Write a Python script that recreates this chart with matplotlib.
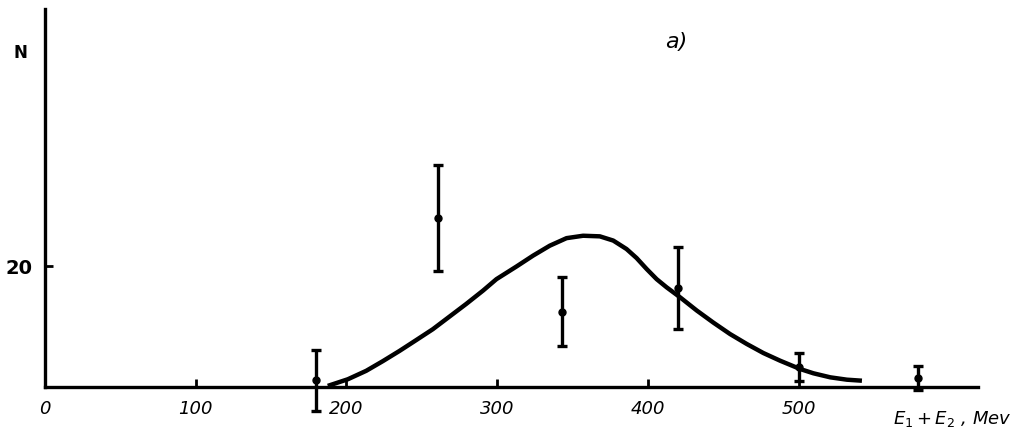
import matplotlib
matplotlib.use("Agg")
import matplotlib.pyplot as plt

# measured points: bin centre (MeV), count, error
energy = [180, 261, 343, 420, 500, 579]
counts = [1.0, 28.0, 12.4, 16.4, 3.2, 1.4]
errors = [5.0, 8.8, 5.7, 6.8, 2.3, 2.0]

# calculated curve
curve_e = [187.6, 200.9, 213.1, 224.1, 235.2, 246.3, 257.3, 268.4, 279.5,
           290.6, 299.5, 312.8, 323.8, 334.9, 346.0, 357.0, 368.1, 377.0,
           385.8, 392.5, 399.1, 405.8, 412.4, 421.3, 432.4, 443.4, 454.5,
           465.6, 476.6, 487.7, 501.0, 509.8, 521.0, 532.0, 542.0]
curve_n = [0.1, 1.2, 2.6, 4.2, 5.9, 7.7, 9.5, 11.6, 13.7,
           15.9, 17.8, 19.9, 21.7, 23.35, 24.6, 25.0, 24.9, 24.2,
           22.8, 21.3, 19.5, 17.8, 16.45, 14.8, 12.6, 10.6, 8.7,
           7.05, 5.55, 4.28, 2.9, 2.19, 1.52, 1.13, 0.96]

x_ticks = [0, 100, 200, 300, 400, 500]
x_ticklabels = ["0", "100", "200", "300", "400", "500"]
y_ticks = [20]

W, H = 1011, 439
fig = plt.figure(figsize=(W / 100, H / 100), dpi=100)
fig.patch.set_facecolor("white")

# axes placed in pixel terms: y-axis at x=45, baseline at y=387.5
left, right, top, base = 45, 978, 10, 387.5
ax = fig.add_axes([left / W, (H - base) / H, (right - left) / W, (base - top) / H])
ax.set_xlim(0, 619)
ax.set_ylim(0, 62.6)

for s in ("top", "right"):
    ax.spines[s].set_visible(False)
for s in ("left", "bottom"):
    ax.spines[s].set_linewidth(2.4)
    ax.spines[s].set_color("black")

ax.plot(curve_e, curve_n, color="black", lw=3.2, solid_capstyle="butt",
        solid_joinstyle="round", clip_on=False, zorder=3)
ax.errorbar(energy, counts, yerr=errors, fmt="o", color="black", ms=5,
            elinewidth=2.4, capsize=3.6, capthick=2.4, clip_on=False, zorder=4)

hand = {"family": "DejaVu Sans", "style": "italic"}
ax.set_xticks(x_ticks)
ax.set_xticklabels(x_ticklabels, fontsize=13, fontstyle="italic")
ax.set_yticks(y_ticks)
ax.set_yticklabels(["20"], fontsize=14, fontweight="bold")
ax.tick_params(axis="x", direction="in", length=6, width=2, pad=9)
ax.tick_params(axis="y", direction="in", length=6, width=2, pad=9)

fig.text(20 / W, 1 - 53 / H, "N", fontsize=12, fontweight="bold",
         ha="center", va="center")
fig.text(676 / W, 1 - 42 / H, "a)", fontsize=16, ha="center", va="center",
         **hand)
fig.text(952 / W, 1 - 419 / H, r"$E_1+E_2$ , Mev", fontsize=13,
         ha="center", va="center", **hand)

fig.savefig("out.png", dpi=100, facecolor="white")
